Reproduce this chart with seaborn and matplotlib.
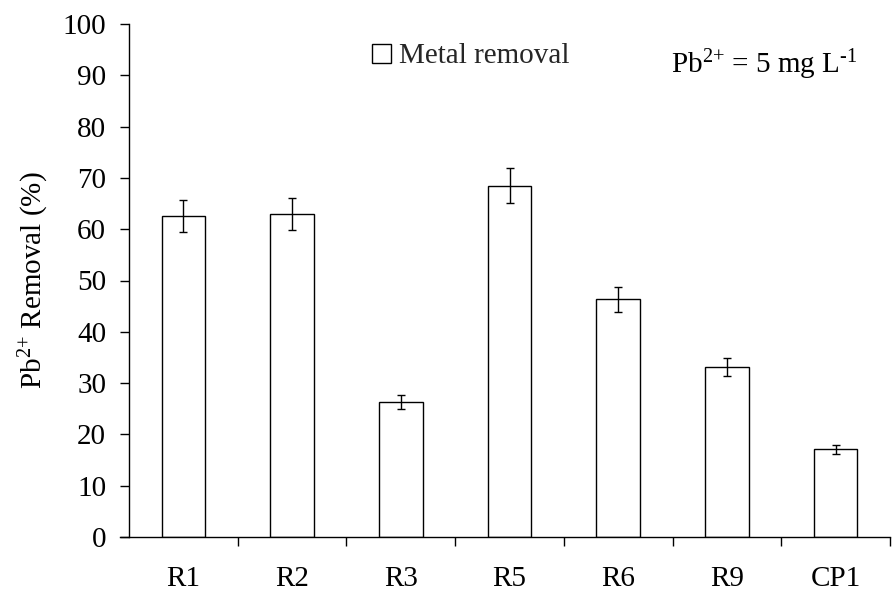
import matplotlib
matplotlib.use("Agg")
import matplotlib.pyplot as plt
import seaborn as sns
import pandas as pd
import numpy as np
from matplotlib.patches import Patch

# Lead removal by each adsorbent
samples = ["R1", "R2", "R3", "R5", "R6", "R9", "CP1"]
removal = [62.5, 63.0, 26.3, 68.5, 46.3, 33.1, 17.1]
removal_err = [3.1, 3.1, 1.3, 3.4, 2.4, 1.7, 0.9]
y_ticks = list(range(0, 101, 10))

FS = 21

sns.set_theme(style="white")
plt.rcParams["font.family"] = ["Liberation Serif", "DejaVu Serif"]
plt.rcParams["mathtext.fontset"] = "custom"
plt.rcParams["mathtext.rm"] = "Liberation Serif"
plt.rcParams["mathtext.it"] = "Liberation Serif:italic"
plt.rcParams["mathtext.default"] = "regular"

df = pd.DataFrame({"sample": samples, "removal": removal, "err": removal_err})

fig = plt.figure(figsize=(8.92, 5.97), dpi=100)
ax = fig.add_axes([129 / 892, 60 / 597, 761 / 892, 513 / 597])

sns.barplot(data=df, x="sample", y="removal", order=samples, errorbar=None,
            color="white", edgecolor="black", linewidth=1.0, width=0.4,
            saturation=1, ax=ax)
ax.errorbar(np.arange(len(samples)), df["removal"], yerr=df["err"], fmt="none",
            ecolor="black", elinewidth=1.0, capsize=3, capthick=1.0)

ax.set_xlim(-0.5, len(samples) - 0.5)
ax.set_ylim(0, 100)
ax.set_yticks(y_ticks)
ax.set_yticklabels([str(t) for t in y_ticks], fontsize=FS)

# category boundaries carry the tick marks, names sit between them
ax.set_xticks(np.arange(len(samples)) + 0.5)
ax.set_xticklabels([])
ax.set_xticks(np.arange(len(samples)), minor=True)
ax.set_xticklabels(samples, minor=True, fontsize=FS)
ax.tick_params(axis="x", which="major", direction="out", length=6.5, width=1.0,
               color="black", bottom=True)
ax.tick_params(axis="x", which="minor", length=0, pad=21, labelcolor="black")
ax.tick_params(axis="y", direction="out", length=6.5, width=1.0, color="black",
               left=True, pad=10, labelcolor="black")

for side in ["top", "right"]:
    ax.spines[side].set_visible(False)
for side in ["left", "bottom"]:
    ax.spines[side].set_color("black")
    ax.spines[side].set_linewidth(1.0)
ax.spines["bottom"].set_bounds(-0.5 - 9 / 108.7, len(samples) - 0.5)
ax.spines["bottom"].set_clip_on(False)

ax.set_xlabel("")
ax.set_ylabel("Pb$^{\\text{2+}}$ Removal (%)", fontsize=FS, color="black")
ax.yaxis.set_label_coords(-0.103, 0.5)

handle = Patch(facecolor="white", edgecolor="black", linewidth=1.0)
ax.legend([handle], ["Metal removal"], loc="upper left",
          bbox_to_anchor=(0.319, 0.962), frameon=False, fontsize=FS,
          borderpad=0, borderaxespad=0, handlelength=0.65, handleheight=0.62,
          handletextpad=0.3)

ax.text(0.712, 0.9045, "Pb$^{\\text{2+}}$ = 5 mg L$^{\\text{-1}}$",
        transform=ax.transAxes, fontsize=FS, va="baseline", ha="left",
        color="black")

fig.savefig("out.png", dpi=100)
